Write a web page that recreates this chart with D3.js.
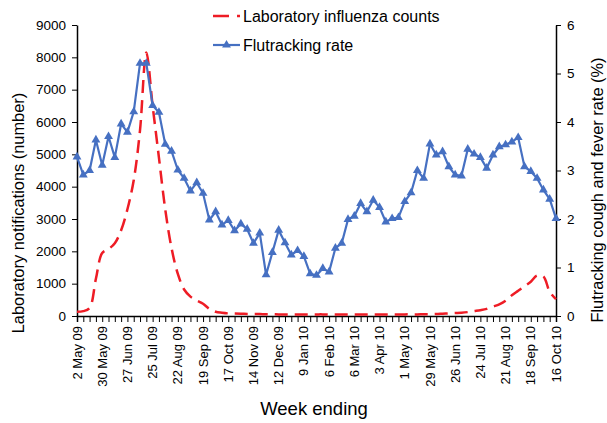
<!DOCTYPE html>
<html lang="en">
<head>
  <meta charset="UTF-8">
  <script src="https://d3js.org/d3.v7.min.js"></script>
  <style>
    body { margin: 0; background: #fff; }
    text { font-family: "Liberation Sans", Arial, sans-serif; fill: #000; }
  </style>
</head>
<body>
<div id="my_dataviz"></div>
<script>
// weekly data, 2 May 09 .. 16 Oct 10 (77 weeks)
var tickLabels = ["2 May 09", "30 May 09", "27 Jun 09", "25 Jul 09", "22 Aug 09", "19 Sep 09",
  "17 Oct 09", "14 Nov 09", "12 Dec 09", "9 Jan 10", "6 Feb 10", "6 Mar 10", "3 Apr 10",
  "1 May 10", "29 May 10", "26 Jun 10", "24 Jul 10", "21 Aug 10", "18 Sep 10", "16 Oct 10"];

var labCounts = [130, 150, 250, 1150, 1950, 2070, 2250, 2650, 3300, 4200,
  5750, 8150, 6500, 4900, 3300, 2100, 1300, 820, 600, 480,
  380, 220, 130, 100, 80, 75, 70, 65, 60, 60,
  55, 55, 50, 50, 50, 50, 50, 50, 50, 50,
  45, 45, 45, 45, 45, 45, 45, 45, 45, 45,
  45, 45, 50, 50, 50, 55, 55, 60, 70, 80,
  90, 100, 120, 150, 180, 220, 290, 360, 470, 640,
  780, 920, 1060, 1250, 1220, 750, 520];

var fluRate = [3.28, 2.91, 3.0, 3.63, 3.11, 3.70, 3.27, 3.96, 3.79, 4.21,
  5.21, 5.21, 4.34, 4.20, 3.54, 3.40, 3.01, 2.84, 2.58, 2.75,
  2.53, 1.98, 2.15, 1.88, 1.97, 1.76, 1.90, 1.79, 1.50, 1.71,
  0.85, 1.31, 1.77, 1.51, 1.26, 1.35, 1.23, 0.87, 0.84, 0.98,
  0.91, 1.40, 1.50, 1.99, 2.06, 2.32, 2.15, 2.39, 2.24, 1.94,
  2.01, 2.03, 2.36, 2.54, 3.0, 2.84, 3.55, 3.32, 3.39, 3.08,
  2.91, 2.89, 3.44, 3.34, 3.27, 3.05, 3.32, 3.49, 3.53, 3.59,
  3.68, 3.08, 2.98, 2.84, 2.60, 2.41, 2.01];

var leftTicks = [0, 1000, 2000, 3000, 4000, 5000, 6000, 7000, 8000, 9000];
var rightTicks = [0, 1, 2, 3, 4, 5, 6];

var marginLeft = 77, marginRight = 51, marginTop = 25, marginBottom = 107;
var width = 607 - marginLeft - marginRight;
var height = 423 - marginTop - marginBottom;
var red = "#ee1c25", blue = "#4670c2";

var svg = d3.select("#my_dataviz")
  .append("svg")
  .attr("width", 607)
  .attr("height", 423);
var g = svg.append("g")
  .attr("transform", "translate(" + marginLeft + "," + marginTop + ")");

var n = fluRate.length;
var x = d3.scaleLinear().domain([0, n - 1]).range([0, width]);
var yL = d3.scaleLinear().domain([0, 9000]).range([height, 0]);
var yR = d3.scaleLinear().domain([0, 6]).range([height, 0]);

// x axis: a tick every week, a label every 4 weeks
var xAxis = g.append("g")
  .attr("transform", "translate(0," + height + ")")
  .call(d3.axisBottom(x).tickValues(d3.range(n)).tickSize(6).tickFormat(""));
xAxis.select(".domain").attr("stroke-width", 1.5);

g.selectAll(".xlab")
  .data(tickLabels)
  .enter()
  .append("text")
    .attr("class", "xlab")
    .attr("transform", function(d, i) { return "translate(" + x(i * 4) + "," + (height + 10) + ")rotate(-90)"; })
    .attr("text-anchor", "end")
    .attr("dy", "0.35em")
    .style("font-size", "13px")
    .text(function(d) { return d; });

var leftAxis = g.append("g")
  .call(d3.axisLeft(yL).tickValues(leftTicks).tickFormat(d3.format("d"))
    .tickSize(5).tickPadding(6).tickSizeOuter(0));
var rightAxis = g.append("g")
  .attr("transform", "translate(" + width + ",0)")
  .call(d3.axisRight(yR).tickValues(rightTicks).tickFormat(d3.format("d"))
    .tickSize(5).tickPadding(6).tickSizeOuter(0));
[leftAxis, rightAxis].forEach(function(a) {
  a.select(".domain").attr("stroke-width", 1.5);
  a.selectAll("text").style("font-size", "13.5px").attr("fill", "#000");
});

// lab counts: smoothed dashed red
var labLine = d3.line()
  .x(function(d, i) { return x(i); })
  .y(function(d) { return yL(d); })
  .curve(d3.curveCatmullRom.alpha(0.5));
g.append("path")
  .datum(labCounts)
  .attr("d", labLine)
  .attr("fill", "none")
  .attr("stroke", red)
  .attr("stroke-width", 2.5)
  .attr("stroke-dasharray", "13,7");

// flutracking rate: blue with triangles
var rateLine = d3.line()
  .x(function(d, i) { return x(i); })
  .y(function(d) { return yR(d); });
g.append("path")
  .datum(fluRate)
  .attr("d", rateLine)
  .attr("fill", "none")
  .attr("stroke", blue)
  .attr("stroke-width", 2.2);

var tri = d3.symbol().type(d3.symbolTriangle).size(34);
g.selectAll(".pt")
  .data(fluRate)
  .enter()
  .append("path")
    .attr("class", "pt")
    .attr("d", tri)
    .attr("transform", function(d, i) { return "translate(" + x(i) + "," + yR(d) + ")"; })
    .attr("fill", blue);

// axis titles
svg.append("text")
  .attr("transform", "translate(24,213)rotate(-90)")
  .attr("text-anchor", "middle")
  .style("font-size", "16.4px")
  .text("Laboratory notifications (number)");
svg.append("text")
  .attr("transform", "translate(602.5,190)rotate(-90)")
  .attr("text-anchor", "middle")
  .style("font-size", "16.4px")
  .text("Flutracking cough and fever rate (%)");
svg.append("text")
  .attr("x", 314)
  .attr("y", 415)
  .attr("text-anchor", "middle")
  .style("font-size", "18.5px")
  .text("Week ending");

// legend
var legend = svg.append("g");
legend.append("line")
  .attr("x1", 213).attr("x2", 240).attr("y1", 16).attr("y2", 16)
  .attr("stroke", red).attr("stroke-width", 2.5).attr("stroke-dasharray", "16,8");
legend.append("text")
  .attr("x", 243).attr("y", 22)
  .style("font-size", "16px")
  .text("Laboratory influenza counts");
legend.append("line")
  .attr("x1", 213).attr("x2", 240).attr("y1", 45).attr("y2", 45)
  .attr("stroke", blue).attr("stroke-width", 2.2);
legend.append("path")
  .attr("d", tri)
  .attr("transform", "translate(226.5,45)")
  .attr("fill", blue);
legend.append("text")
  .attr("x", 243).attr("y", 51)
  .style("font-size", "16px")
  .text("Flutracking rate");
</script>
</body>
</html>
